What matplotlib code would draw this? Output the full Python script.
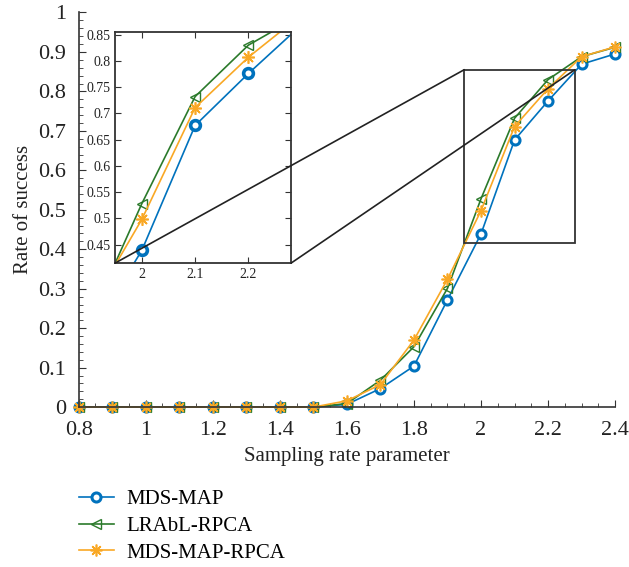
import numpy as np
import matplotlib
matplotlib.use('Agg')
import matplotlib.pyplot as plt
from matplotlib.patches import Rectangle, ConnectionPatch
from matplotlib.ticker import MultipleLocator

#=============== data ===============
rate = [0.8, 0.9, 1.0, 1.1, 1.2, 1.3, 1.4, 1.5, 1.6, 1.7, 1.8, 1.9, 2.0, 2.1, 2.2, 2.3, 2.4]
mds_map = [0, 0, 0, 0, 0, 0, 0, 0, 0.007, 0.047, 0.104, 0.272, 0.439, 0.677, 0.776, 0.869, 0.895]
lrabl_rpca = [0, 0, 0, 0, 0, 0, 0, 0, 0.009, 0.068, 0.153, 0.301, 0.528, 0.732, 0.830, 0.888, 0.912]
mds_map_rpca = [0, 0, 0, 0, 0, 0, 0, 0, 0.016, 0.057, 0.170, 0.324, 0.498, 0.711, 0.807, 0.888, 0.913]
names = ['MDS-MAP', 'LRAbL-RPCA', 'MDS-MAP-RPCA']

# zoom window
zx0, zx1 = 1.95, 2.28
zy0, zy1 = 0.415, 0.855

plt.rcParams['font.family'] = 'Liberation Serif'
plt.rcParams['axes.edgecolor'] = '#333333'

C_BLUE = '#0072BD'
C_GREEN = '#2B7A2B'
C_ORANGE = '#F9A825'


def draw_lines(ax, ms, mew):
    h1, = ax.plot(rate, mds_map, color=C_BLUE, lw=1.2, marker='o', ms=ms,
                  mfc='white', mec=C_BLUE, mew=mew)
    h2, = ax.plot(rate, lrabl_rpca, color=C_GREEN, lw=1.2, marker='<', ms=ms,
                  mfc='none', mec=C_GREEN, mew=1.0)
    h3, = ax.plot(rate, mds_map_rpca, color=C_ORANGE, lw=1.2, marker=(8, 2, 0),
                  ms=ms + 2, mec=C_ORANGE, mew=1.2)
    return h1, h2, h3


fig = plt.figure(figsize=(6.29, 5.67), dpi=100)
ax = fig.add_axes([0.125, 0.282, 0.853, 0.696])
hs = draw_lines(ax, 6.5, 2.2)
ax.set_xlim(0.8, 2.4)
ax.set_ylim(0, 1)
ax.xaxis.set_major_locator(MultipleLocator(0.2))
ax.xaxis.set_minor_locator(MultipleLocator(0.05))
ax.yaxis.set_major_locator(MultipleLocator(0.1))
ax.yaxis.set_minor_locator(MultipleLocator(0.02))
ax.set_xticks(np.arange(0.8, 2.41, 0.2))
ax.set_xticklabels(['0.8', '1', '1.2', '1.4', '1.6', '1.8', '2', '2.2', '2.4'])
ax.set_yticks(np.arange(0, 1.01, 0.1))
ax.set_yticklabels(['0', '0.1', '0.2', '0.3', '0.4', '0.5', '0.6', '0.7', '0.8', '0.9', '1'])
ax.tick_params(which='both', direction='in', labelsize=16, colors='#333333',
               labelcolor='#222222')
ax.tick_params(axis='x', pad=10)
ax.tick_params(axis='y', pad=9)
ax.tick_params(which='major', length=5)
ax.tick_params(which='minor', length=3)
ax.spines['top'].set_visible(False)
ax.spines['right'].set_visible(False)
for s in ['left', 'bottom']:
    ax.spines[s].set_linewidth(1.2)
ax.set_xlabel('Sampling rate parameter', fontsize=15, color='#222222', labelpad=5)
ax.set_ylabel('Rate of success', fontsize=15, color='#222222', labelpad=4)
for ln in ax.lines:
    ln.set_clip_on(False)

ax.add_patch(Rectangle((zx0, zy0), zx1 - zx0, zy1 - zy0, fill=False,
                       ec='#333333', lw=1.3, zorder=5))

# inset
axin = fig.add_axes([0.183, 0.536, 0.2798, 0.4076])
draw_lines(axin, 7, 2.6)
axin.set_xlim(zx0, zx1)
axin.set_ylim(zy0, zy1)
axin.set_xticks([2, 2.1, 2.2])
axin.set_xticklabels(['2', '2.1', '2.2'])
axin.set_yticks(np.arange(0.45, 0.851, 0.05))
axin.set_yticklabels(['0.45', '0.5', '0.55', '0.6', '0.65', '0.7', '0.75', '0.8', '0.85'])
axin.tick_params(direction='in', labelsize=10, top=True, right=True, length=4,
                 colors='#333333', labelcolor='#222222')
for s in axin.spines.values():
    s.set_linewidth(1.3)

# connector lines from inset corners to zoom window
for xa, xb in [(zx0, zx0), (zx1, zx1)]:
    con = ConnectionPatch(xyA=(xa, zy0), coordsA='data', axesA=axin,
                          xyB=(xb, zy1), coordsB='data', axesB=ax,
                          color='#222222', lw=1.2, zorder=6)
    fig.add_artist(con)

fig.legend(hs, names, loc='upper left', bbox_to_anchor=(0.095, 0.17),
           frameon=False, fontsize=15, handlelength=1.7, labelspacing=0.35,
           handletextpad=0.6)

fig.savefig('out.png', dpi=100)
